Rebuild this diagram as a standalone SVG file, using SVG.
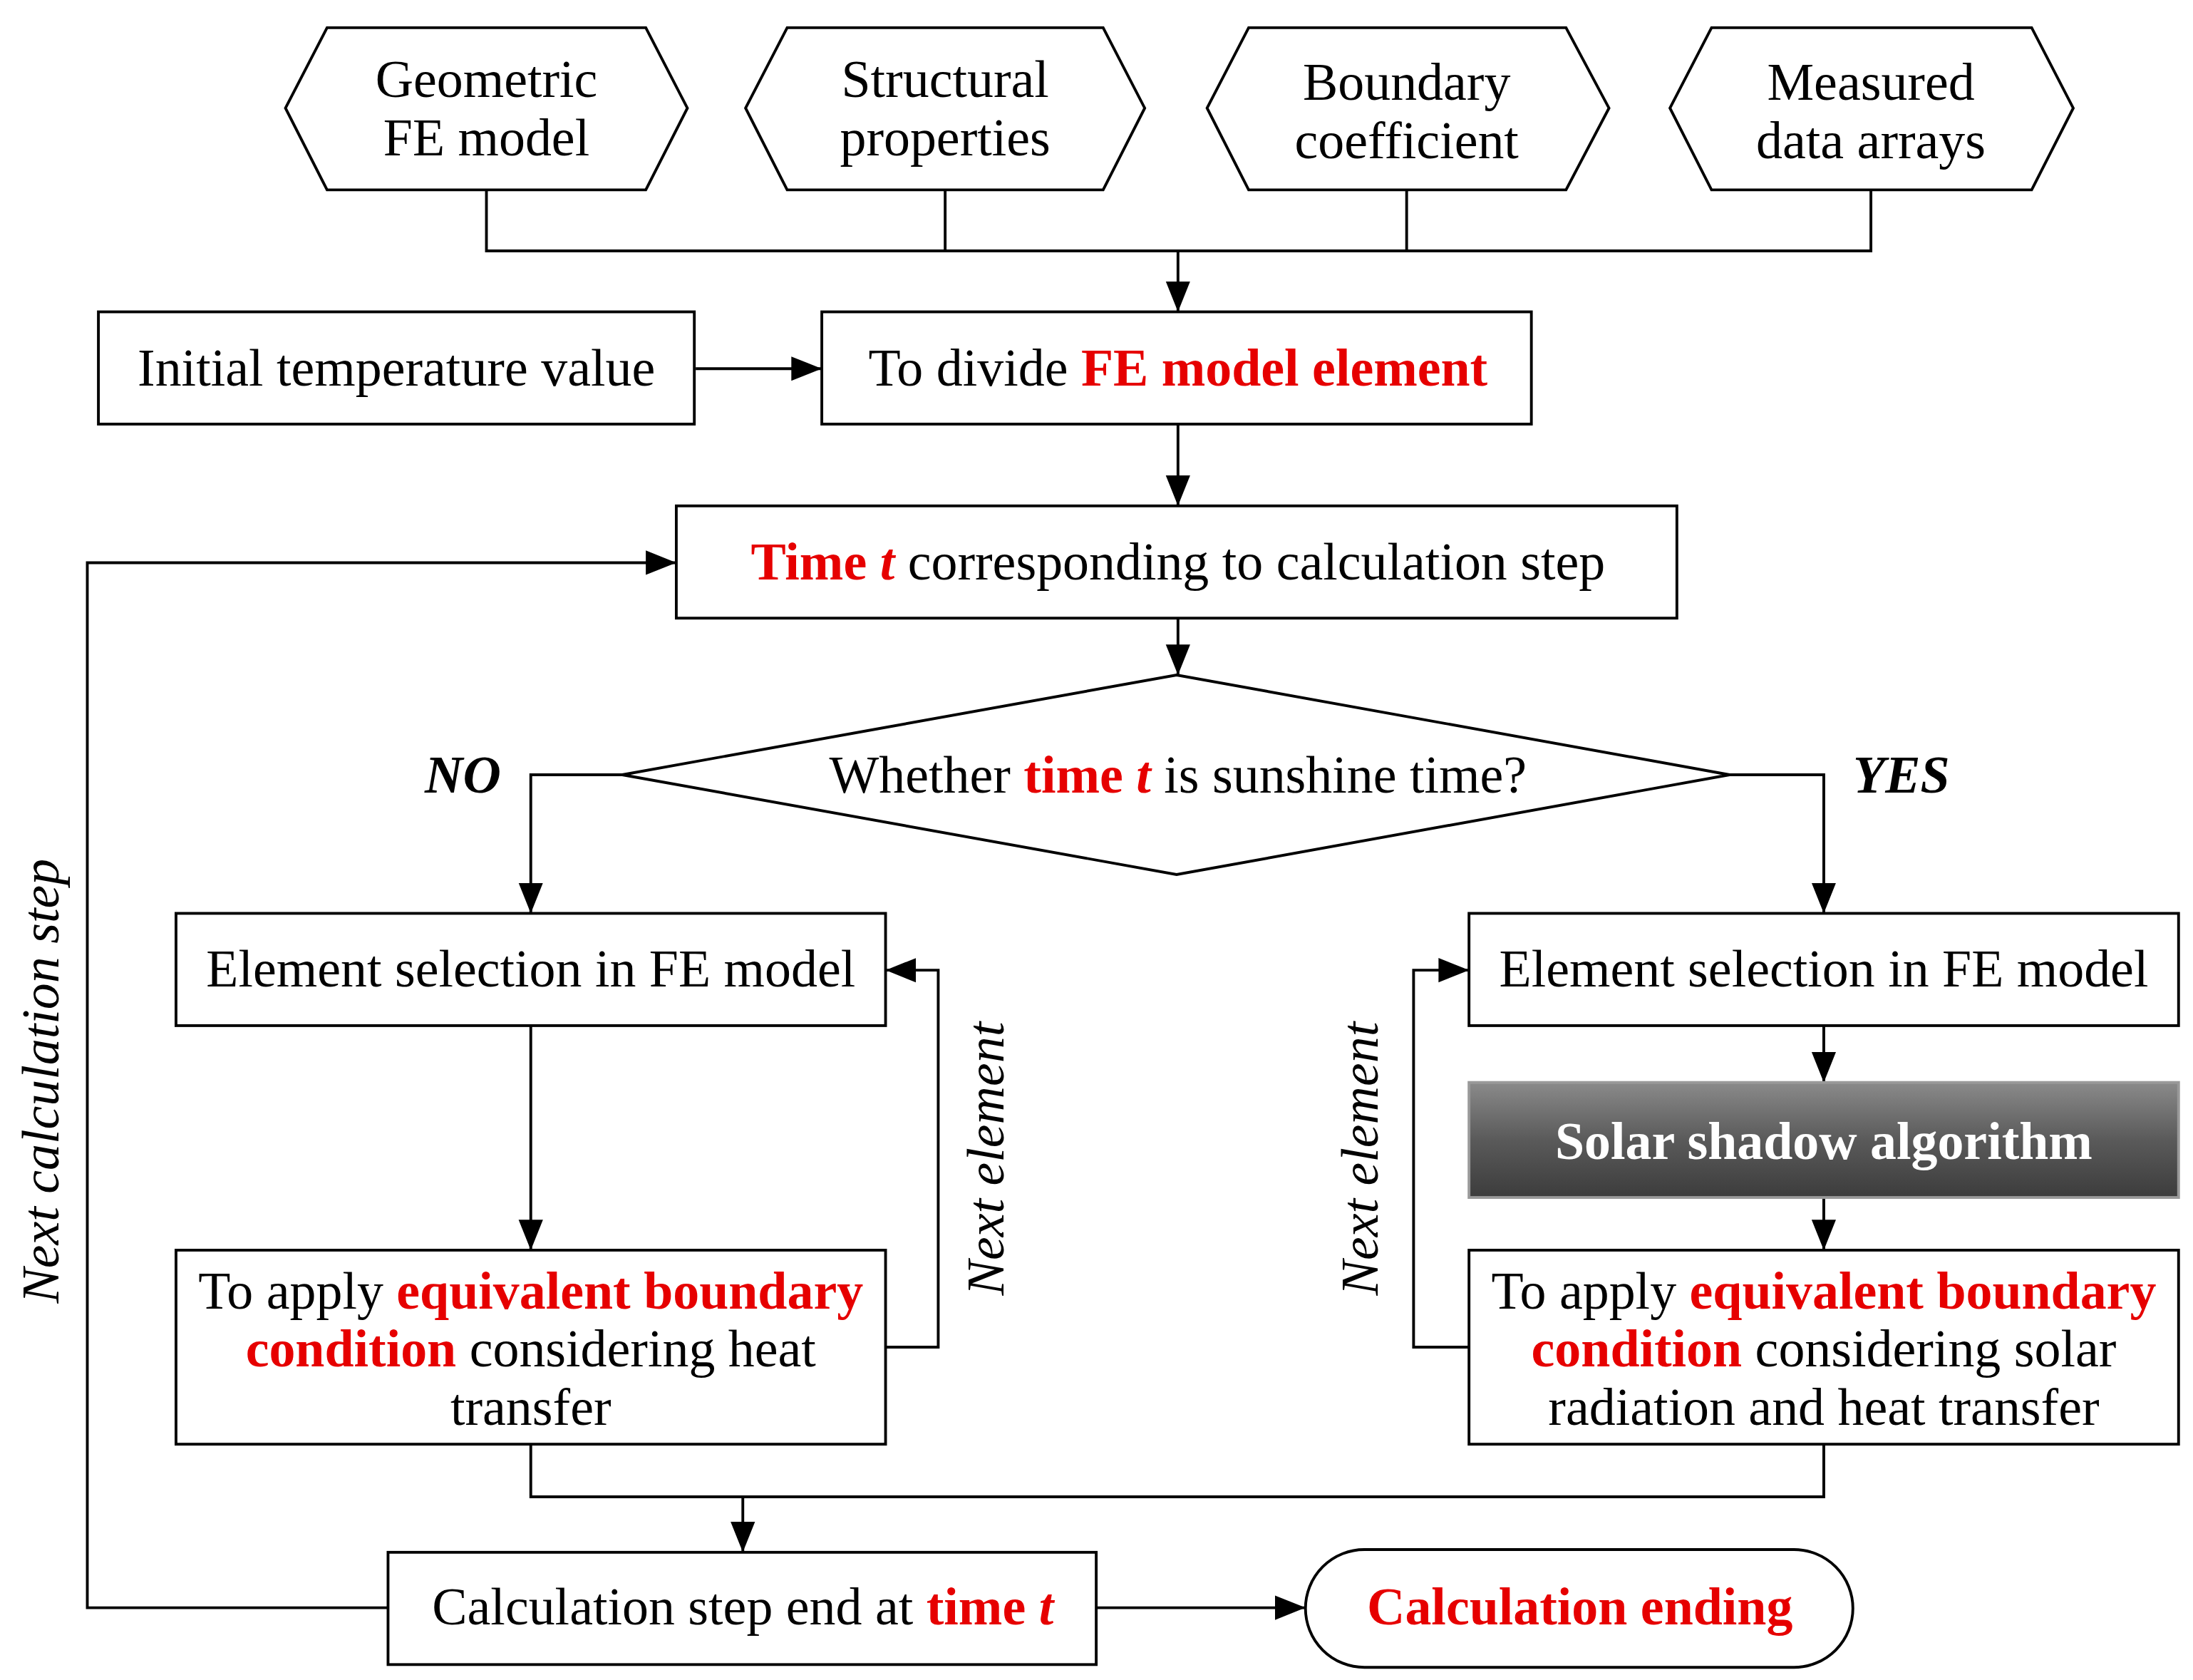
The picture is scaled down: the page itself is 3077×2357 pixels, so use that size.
<svg xmlns="http://www.w3.org/2000/svg" width="3077" height="2357" viewBox="0 0 3077 2357">
<defs>
<marker id="a" viewBox="0 0 20 16" refX="20" refY="8" markerWidth="11" markerHeight="9" markerUnits="userSpaceOnUse" orient="auto"><path d="M0,0 L20,8 L0,16 z" fill="#000"/></marker>
<linearGradient id="g" x1="0" y1="0" x2="0" y2="1"><stop offset="0" stop-color="#8a8a8a"/><stop offset="0.5" stop-color="#5a5a5a"/><stop offset="1" stop-color="#3c3c3c"/></linearGradient>
<style>
.s{fill:#fff;stroke:#000;stroke-width:1}
.t{font-family:"Liberation Serif","DejaVu Serif",serif;font-size:19px;text-anchor:middle;fill:#000}
.r{fill:#e60000;font-weight:bold}
.c{fill:none;stroke:#000;stroke-width:1}
.ca{fill:none;stroke:#000;stroke-width:1;marker-end:url(#a)}
</style>
</defs>
<rect width="3077" height="2357" fill="#fff"/>
<g transform="scale(3.889)">
<g id="connectors">
<path class="c" d="M175.5,68.5V90.5H675V68.5M341,68.5V90.5M507.5,68.5V90.5"/>
<path d="M425,90.5V112.5" class="ca"/>
<path d="M251,133H296.5" class="ca"/>
<path d="M425,153V182.5" class="ca"/>
<path d="M425,223V243.5" class="ca"/>
<path d="M224.5,279.5H191.5V329.5" class="ca"/>
<path d="M624,279.5H658V329.5" class="ca"/>
<path d="M191.5,370V451" class="ca"/>
<path d="M319.5,486H338.5V350H319.5" class="ca"/>
<path d="M658,370V390.5" class="ca"/>
<path d="M658,432V451" class="ca"/>
<path d="M530,486H510V350H530" class="ca"/>
<path class="c" d="M191.5,521V540H658V521"/>
<path d="M268,540V560" class="ca"/>
<path d="M395.5,580H471" class="ca"/>
<path d="M140,580H31.5V203H244" class="ca"/>
</g>
<g id="hex1"><polygon class="s" points="103,39 118,10 233,10 248,39 233,68.5 118,68.5"/><text class="t" x="175.5" y="35">Geometric</text><text class="t" x="175.5" y="56">FE model</text></g>
<g id="hex2"><polygon class="s" points="269,39 284,10 398,10 413,39 398,68.5 284,68.5"/><text class="t" x="341" y="35">Structural</text><text class="t" x="341" y="56">properties</text></g>
<g id="hex3"><polygon class="s" points="435.5,39 450.5,10 565,10 580.5,39 565,68.5 450.5,68.5"/><text class="t" x="507.5" y="36">Boundary</text><text class="t" x="507.5" y="57">coefficient</text></g>
<g id="hex4"><polygon class="s" points="602.5,39 617.5,10 733,10 748,39 733,68.5 617.5,68.5"/><text class="t" x="675" y="36">Measured</text><text class="t" x="675" y="57">data arrays</text></g>
<g id="init"><rect class="s" x="35.5" y="112.5" width="215" height="40.5"/><text class="t" x="143" y="139">Initial temperature value</text></g>
<g id="divide"><rect class="s" x="296.5" y="112.5" width="256" height="40.5"/><text class="t" x="425" y="139">To divide <tspan class="r">FE model element</tspan></text></g>
<g id="time"><rect class="s" x="244" y="182.5" width="361" height="40.5"/><text class="t" x="425" y="209"><tspan class="r">Time <tspan font-style="italic">t</tspan></tspan> corresponding to calculation step</text></g>
<g id="decision"><polygon class="s" points="224.5,279.5 424.5,243.5 624,279.5 424.5,315.5"/><text class="t" x="425" y="286">Whether <tspan class="r">time <tspan font-style="italic">t</tspan></tspan> is sunshine time?</text></g>
<text class="t" x="167" y="286" font-weight="bold" font-style="italic">NO</text>
<text class="t" x="686" y="286" font-weight="bold" font-style="italic">YES</text>
<g id="selL"><rect class="s" x="63.5" y="329.5" width="256" height="40.5"/><text class="t" x="191.5" y="356">Element selection in FE model</text></g>
<g id="selR"><rect class="s" x="530" y="329.5" width="256" height="40.5"/><text class="t" x="658" y="356">Element selection in FE model</text></g>
<g id="solar"><rect x="530" y="390.5" width="256" height="41.5" fill="url(#g)" stroke="#999" stroke-width="1"/><text class="t" x="658" y="418" font-weight="bold" font-size="21" style="fill:#fff">Solar shadow algorithm</text></g>
<g id="applyL"><rect class="s" x="63.5" y="451" width="256" height="70"/><text class="t" x="191.5" y="472">To apply <tspan class="r">equivalent boundary</tspan></text><text class="t" x="191.5" y="493"><tspan class="r">condition</tspan> considering heat</text><text class="t" x="191.5" y="514">transfer</text></g>
<g id="applyR"><rect class="s" x="530" y="451" width="256" height="70"/><text class="t" x="658" y="472">To apply <tspan class="r">equivalent boundary</tspan></text><text class="t" x="658" y="493"><tspan class="r">condition</tspan> considering solar</text><text class="t" x="658" y="514">radiation and heat transfer</text></g>
<text class="t" font-style="italic" transform="translate(362,418) rotate(-90)">Next element</text>
<text class="t" font-style="italic" transform="translate(497,418) rotate(-90)">Next element</text>
<text class="t" font-style="italic" transform="translate(21,390) rotate(-90)">Next calculation step</text>
<g id="calcstep"><rect class="s" x="140" y="560" width="255.5" height="40.5"/><text class="t" x="268" y="586">Calculation step end at <tspan class="r">time <tspan font-style="italic">t</tspan></tspan></text></g>
<g id="ending"><rect class="s" x="471" y="559" width="197.5" height="42.5" rx="21.25"/><text class="t r" x="570" y="586">Calculation ending</text></g>
</g>
</svg>
